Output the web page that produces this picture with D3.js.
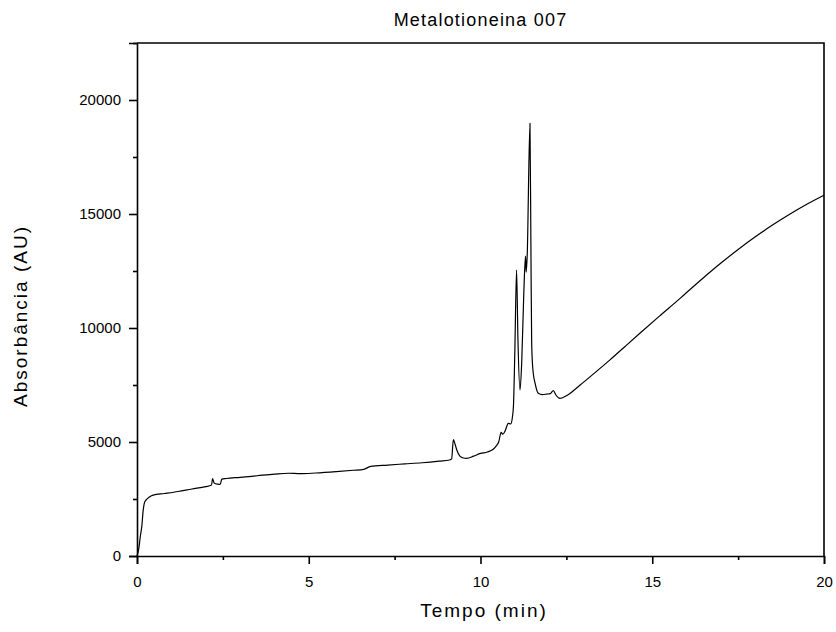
<!DOCTYPE html>
<html>
<head>
<meta charset="utf-8">
<script src="https://cdn.jsdelivr.net/npm/d3@7"></script>
<style>
  html, body { margin: 0; padding: 0; background: #fff; }
  svg { display: block; font-family: "Liberation Sans", Arial, sans-serif; }
  .axis path, .axis line { stroke: #000; stroke-width: 1.6; }
  .axis text { font-size: 15px; fill: #000; }
  .title { font-size: 18px; letter-spacing: 1.2px; }
  .label { font-size: 19px; letter-spacing: 2px; }
</style>
</head>
<body>
<svg id="chart" width="836" height="632"></svg>
<script>
(function () {
  "use strict";

  // retention time (min)
  const time = [
    0, 0.05, 0.1, 0.14, 0.18, 0.22, 0.28, 0.35, 0.47, 0.8, 1.2, 1.6, 2.0, 2.17, 2.2,
    2.25, 2.35, 2.42, 2.47, 2.6, 3.0, 3.5, 4.0, 4.4, 4.75, 5.2, 5.8, 6.3, 6.6, 6.8,
    7.3, 7.8, 8.3, 8.8, 9.1, 9.16, 9.21, 9.26, 9.31, 9.4, 9.5, 9.6, 9.8, 10.0, 10.2,
    10.37, 10.47, 10.53, 10.6, 10.65, 10.72, 10.81, 10.88, 10.93, 10.96, 11.0, 11.05,
    11.09, 11.15, 11.2, 11.26, 11.31, 11.33, 11.36, 11.44, 11.47, 11.49, 11.53, 11.59,
    11.68, 11.8, 11.93, 12.03, 12.12, 12.2, 12.31, 12.5, 12.9, 13.3, 13.77, 14.2,
    14.64, 15.2, 15.81, 16.0, 16.5, 17.0, 17.5, 18.0, 18.5, 19.0, 19.5, 20.0
  ];
  // absorbance (AU)
  const absorbance = [
    0, 300, 900, 1300, 2000, 2350, 2480, 2580, 2670, 2740, 2830, 2940, 3040, 3110, 3400,
    3190, 3150, 3140, 3370, 3400, 3450, 3520, 3590, 3630, 3610, 3640, 3700, 3760, 3800, 3930,
    3990, 4040, 4090, 4160, 4210, 4260, 5100, 4900, 4650, 4380, 4300, 4280, 4380, 4500, 4560,
    4680, 4850, 5000, 5420, 5340, 5500, 5820, 5790, 6100, 6600, 9000, 12540,
    9500, 7280, 8500, 11500, 13150, 12450, 13200, 18980, 13000, 9300, 8100, 7570,
    7140, 7080, 7100, 7120, 7250, 7050, 6910, 7030, 7500, 8000, 8600, 9180,
    9770, 10510, 11300, 11555, 12215, 12848, 13443, 13998, 14513, 14988, 15425, 15820
  ];

  const xMajor = [0, 5, 10, 15, 20];
  const xMinor = [2.5, 7.5, 12.5, 17.5];
  const yMajor = [0, 5000, 10000, 15000, 20000];
  const yMinor = [2500, 7500, 12500, 17500, 22500];

  const svg = d3.select("#chart");
  const margin = { top: 43, right: 12, bottom: 76, left: 137 };
  const width = 836 - margin.left - margin.right;
  const height = 632 - margin.top - margin.bottom;

  const x = d3.scaleLinear().domain([0, 20]).range([margin.left, margin.left + width]);
  const y = d3.scaleLinear().domain([0, 22500]).range([margin.top + height, margin.top]);

  const data = time.map((t, i) => ({ t: t, v: absorbance[i] }));

  // frame (top and right)
  svg.append("path")
    .attr("d", `M${x(0)},${y(22500)}H${x(20)}V${y(0)}`)
    .attr("fill", "none")
    .attr("stroke", "#000")
    .attr("stroke-width", 1.6);

  svg.append("g")
    .attr("class", "axis")
    .attr("transform", `translate(0,${y(0)})`)
    .call(d3.axisBottom(x).tickValues(xMajor).tickSize(8).tickPadding(12).tickFormat(d3.format("d")));
  svg.append("g")
    .attr("class", "axis")
    .attr("transform", `translate(0,${y(0)})`)
    .call(d3.axisBottom(x).tickValues(xMinor).tickSize(4).tickFormat(""))
    .call(g => g.select(".domain").remove());

  svg.append("g")
    .attr("class", "axis")
    .attr("transform", `translate(${x(0)},0)`)
    .call(d3.axisLeft(y).tickValues(yMajor).tickSize(8).tickPadding(8).tickFormat(d3.format("d")));
  svg.append("g")
    .attr("class", "axis")
    .attr("transform", `translate(${x(0)},0)`)
    .call(d3.axisLeft(y).tickValues(yMinor).tickSize(4).tickFormat(""))
    .call(g => g.select(".domain").remove());

  const line = d3.line()
    .x(d => x(d.t))
    .y(d => y(d.v))
    .curve(d3.curveMonotoneX);

  svg.append("path")
    .datum(data)
    .attr("d", line)
    .attr("fill", "none")
    .attr("stroke", "#000")
    .attr("stroke-width", 1.2);

  svg.append("text")
    .attr("class", "title")
    .attr("x", (x(0) + x(20)) / 2)
    .attr("y", 26)
    .attr("text-anchor", "middle")
    .text("Metalotioneina 007");

  svg.append("text")
    .attr("class", "label")
    .attr("x", 484)
    .attr("y", 617)
    .attr("text-anchor", "middle")
    .text("Tempo (min)");

  svg.append("text")
    .attr("class", "label")
    .attr("transform", "translate(27,316) rotate(-90)")
    .attr("text-anchor", "middle")
    .text("Absorbância (AU)");
})();
</script>
</body>
</html>
